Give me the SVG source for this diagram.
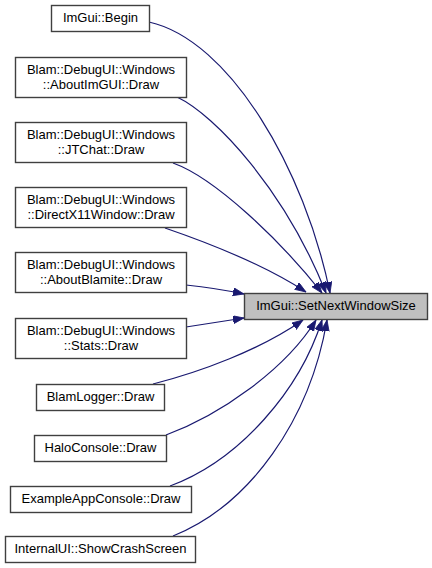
<svg xmlns="http://www.w3.org/2000/svg" width="432" height="568" viewBox="0 0 432 568">
<style>
.n rect{fill:#ffffff;stroke:#404040;stroke-width:1.4}
.t rect{fill:#bfbfbf;stroke:#404040;stroke-width:1.4}
text{font-family:"Liberation Sans",Arial,sans-serif;font-size:13px;fill:#000000;text-anchor:middle}
.e path{fill:none;stroke:#191970;stroke-width:1.2;marker-end:url(#ah)}
</style>
<defs>
<marker id="ah" markerUnits="userSpaceOnUse" markerWidth="12" markerHeight="9" refX="11" refY="4" orient="auto">
<path d="M0,0 L11,4 L0,8 z" fill="#191970" stroke="#191970" stroke-width="0.8"/>
</marker>
</defs>
<rect width="432" height="568" fill="#ffffff"/>
<g id="edges" class="e">
<path d="M149,22 C230,40 305,170 330,293"/>
<path d="M177,97 C215,115 285,190 326,293"/>
<path d="M173,163 C215,178 280,240 322,293"/>
<path d="M165,228 C200,240 260,262 306,292"/>
<path d="M186,285 C205,287 225,290 244,294"/>
<path d="M186,327 C205,324 225,321 244,318"/>
<path d="M153,384 C200,372 260,350 303,320"/>
<path d="M166,435 C220,415 285,370 316,320"/>
<path d="M170,486 C240,460 300,390 322,320"/>
<path d="M173,536 C250,505 310,420 327,320"/>
</g>
<g id="target" class="t">
<rect x="244.5" y="293.5" width="183" height="26"/>
<text x="336" y="310">ImGui::SetNextWindowSize</text>
</g>
<g id="n1" class="n">
<rect x="51.5" y="5.5" width="98" height="26"/>
<text x="100.5" y="22">ImGui::Begin</text>
</g>
<g id="n2" class="n">
<rect x="15.5" y="57.5" width="171" height="40"/>
<text x="101" y="74">Blam::DebugUI::Windows</text>
<text x="101" y="89">::AboutImGUI::Draw</text>
</g>
<g id="n3" class="n">
<rect x="15.5" y="122.5" width="171" height="40"/>
<text x="101" y="139">Blam::DebugUI::Windows</text>
<text x="101" y="154">::JTChat::Draw</text>
</g>
<g id="n4" class="n">
<rect x="15.5" y="187.5" width="171" height="40"/>
<text x="101" y="204">Blam::DebugUI::Windows</text>
<text x="101" y="219">::DirectX11Window::Draw</text>
</g>
<g id="n5" class="n">
<rect x="15.5" y="252.5" width="171" height="40"/>
<text x="101" y="269">Blam::DebugUI::Windows</text>
<text x="101" y="284">::AboutBlamite::Draw</text>
</g>
<g id="n6" class="n">
<rect x="15.5" y="318.5" width="171" height="40"/>
<text x="101" y="335">Blam::DebugUI::Windows</text>
<text x="101" y="350">::Stats::Draw</text>
</g>
<g id="n7" class="n">
<rect x="36.5" y="384.5" width="128" height="26"/>
<text x="100.5" y="401">BlamLogger::Draw</text>
</g>
<g id="n8" class="n">
<rect x="34.5" y="435.5" width="132" height="26"/>
<text x="100.5" y="452">HaloConsole::Draw</text>
</g>
<g id="n9" class="n">
<rect x="10.5" y="486.5" width="181" height="26"/>
<text x="101" y="503">ExampleAppConsole::Draw</text>
</g>
<g id="n10" class="n">
<rect x="5.5" y="536.5" width="190" height="26"/>
<text x="100.5" y="553">InternalUI::ShowCrashScreen</text>
</g>
</svg>
